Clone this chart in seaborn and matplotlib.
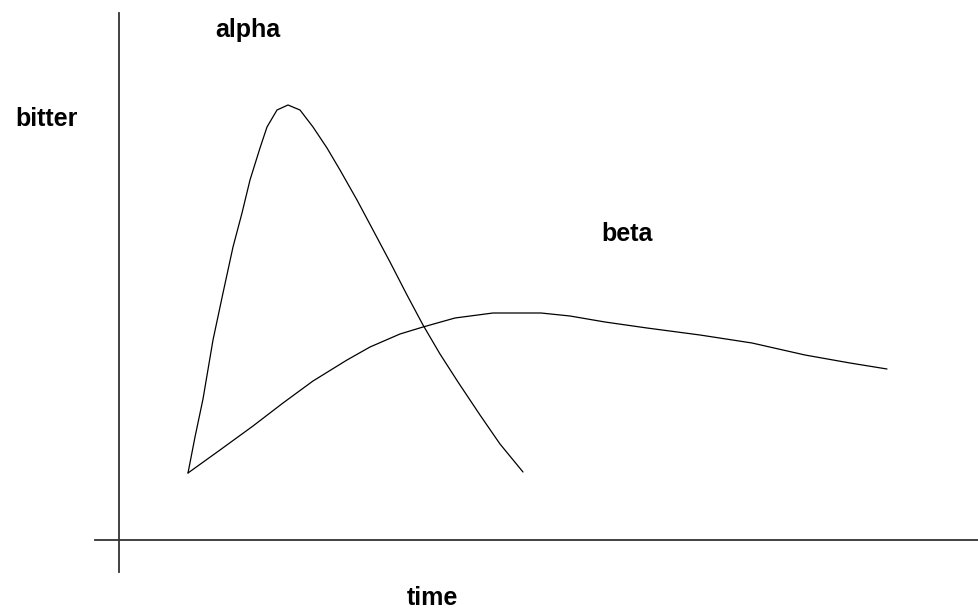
import pandas as pd
import seaborn as sns
import matplotlib.pyplot as plt

# values (time to the right, bitterness upwards)
alpha_time = [69, 76, 84, 94, 104, 114, 123, 131, 141, 148, 158, 169, 181, 194,
              208, 221, 238, 254, 271, 288, 304, 321, 339, 361, 381, 404]
alpha_bitter = [67, 103, 141, 200, 247, 293, 327, 360, 392, 413, 430, 435, 430, 413,
                392, 370, 340, 310, 278, 245, 215, 186, 158, 125, 96, 68]
beta_time = [69, 101, 134, 164, 194, 228, 251, 281, 304, 336, 374, 422, 451, 486,
             528, 581, 633, 686, 731, 768]
beta_bitter = [67, 90, 114, 137, 159, 180, 193, 206, 213, 222, 227, 227, 224, 218,
               212, 205, 197, 185, 177, 171]

alpha = pd.DataFrame({'time': alpha_time, 'bitter': alpha_bitter, 'hop': 'alpha'})
beta = pd.DataFrame({'time': beta_time, 'bitter': beta_bitter, 'hop': 'beta'})
data = pd.concat([alpha, beta], ignore_index=True)

sns.set_style('white')
plt.rcParams['font.family'] = ['Liberation Sans', 'DejaVu Sans']

fig = plt.figure(figsize=(9.79, 6.13), dpi=100)
ax = fig.add_axes([0, 0, 1, 1])

sns.lineplot(data=data, x='time', y='bitter', units='hop', estimator=None,
             sort=False, color='black', linewidth=0.9, ax=ax)

ax.set_xlim(-119, 860)
ax.set_ylim(-73, 540)

# hand-drawn looking axes crossing at the origin
for side in ['top', 'right']:
    ax.spines[side].set_visible(False)
ax.spines['left'].set_position(('data', 0))
ax.spines['bottom'].set_position(('data', 0))
ax.spines['left'].set_bounds(-32, 527)
ax.spines['bottom'].set_bounds(-24, 860)
for side in ['left', 'bottom']:
    ax.spines[side].set_color('#333333')
    ax.spines[side].set_linewidth(1.3)
ax.set_xticks([])
ax.set_yticks([])
ax.set_xlabel('')
ax.set_ylabel('')

label_style = dict(fontsize=18, fontweight='bold', color='black',
                   ha='center', va='center')
ax.text(129, 510, 'alpha', **label_style)
ax.text(508, 306, 'beta', **label_style)
ax.text(-72, 421, 'bitter', **label_style)
ax.text(313, -58, 'time', **label_style)

fig.savefig('out.png', dpi=100)
